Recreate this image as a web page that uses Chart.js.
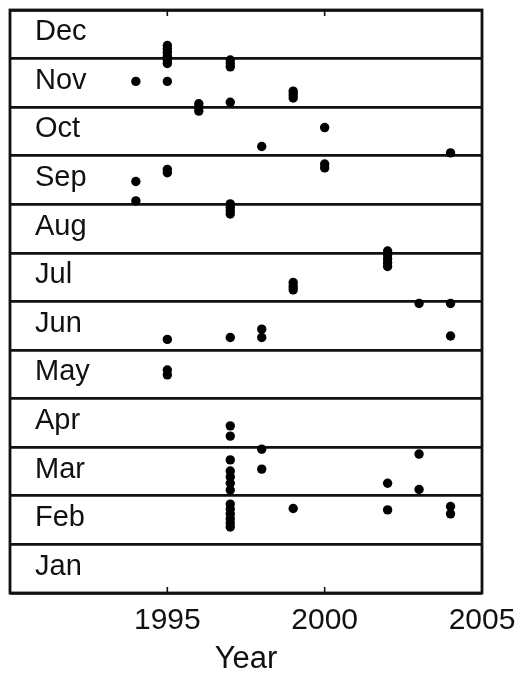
<!DOCTYPE html>
<html>
<head>
<meta charset="utf-8">
<script src="https://cdn.jsdelivr.net/npm/chart.js@4"></script>
<style>
  html, body { margin: 0; padding: 0; background: #fff; }
  canvas { display: block; }
</style>
</head>
<body>
<canvas id="c" width="518" height="674"></canvas>
<script>
// ---- data ----
const monthNames = ['Jan','Feb','Mar','Apr','May','Jun','Jul','Aug','Sep','Oct','Nov','Dec'];
const xTickValues = [1995, 2000, 2005];
const xMin = 1990, xMax = 2005;
// each event: year and position within the year (0 = start of Jan, 12 = end of Dec)
const eventYears = [
  1994, 1994, 1994,
  1995, 1995, 1995, 1995, 1995, 1995, 1995, 1995, 1995, 1995, 1995, 1995,
  1996, 1996, 1996,
  1997, 1997, 1997, 1997, 1997, 1997, 1997, 1997, 1997, 1997, 1997, 1997, 1997, 1997, 1997, 1997, 1997, 1997, 1997, 1997, 1997, 1997,
  1998, 1998, 1998, 1998, 1998,
  1999, 1999, 1999, 1999, 1999, 1999, 1999,
  2000, 2000, 2000,
  2002, 2002, 2002, 2002, 2002, 2002, 2002,
  2003, 2003, 2003,
  2004, 2004, 2004, 2004, 2004
];
const eventMonths = [
  10.53, 8.47, 8.07,
  11.27, 11.2, 11.13, 11.05, 10.97, 10.9, 10.53, 8.72, 8.65, 5.22, 4.59, 4.49,
  10.07, 10.0, 9.92,
  10.97, 10.9, 10.83, 10.1, 8.01, 7.94, 7.87, 7.80, 5.26, 3.44, 3.23, 2.74, 2.51, 2.39, 2.26, 2.12, 1.83, 1.73, 1.63, 1.53, 1.44, 1.36,
  9.19, 5.43, 5.26, 2.96, 2.55,
  10.33, 10.26, 10.19, 6.39, 6.31, 6.24, 1.74,
  9.58, 8.83, 8.75,
  7.04, 6.96, 6.88, 6.80, 6.72, 2.26, 1.71,
  5.96, 2.86, 2.13,
  9.06, 5.96, 5.29, 1.78, 1.63
];

const points = eventYears.map((y, i) => ({ x: y, y: eventMonths[i] }));
const FONT = '"Liberation Sans", Arial, Helvetica, sans-serif';
const INK = '#111';

const framePlugin = {
  id: 'frame',
  afterDraw(chart) {
    const { ctx, chartArea: a, scales } = chart;
    ctx.save();
    // month labels inside each band
    ctx.fillStyle = INK;
    ctx.font = '29px ' + FONT;
    ctx.textAlign = 'left';
    ctx.textBaseline = 'middle';
    monthNames.forEach((m, i) => {
      const yp = scales.y.getPixelForValue(i + 0.5);
      ctx.fillText(m, a.left + 25, yp - 2);
    });
    // frame
    ctx.strokeStyle = INK;
    ctx.lineWidth = 2.8;
    ctx.strokeRect(a.left, a.top, a.right - a.left, a.bottom - a.top);
    // inward tick marks top & bottom
    ctx.lineWidth = 1.6;
    xTickValues.forEach(v => {
      const xp = scales.x.getPixelForValue(v);
      ctx.beginPath();
      ctx.moveTo(xp, a.bottom); ctx.lineTo(xp, a.bottom - 6);
      ctx.moveTo(xp, a.top); ctx.lineTo(xp, a.top + 6);
      ctx.stroke();
    });
    ctx.restore();
  }
};

new Chart(document.getElementById('c'), {
  type: 'scatter',
  data: {
    datasets: [{
      data: points,
      backgroundColor: '#000',
      borderWidth: 0,
      pointRadius: 4.7,
      pointHoverRadius: 4.7
    }]
  },
  options: {
    responsive: false,
    animation: false,
    devicePixelRatio: 1,
    layout: { padding: { left: 10, top: 10, right: 36, bottom: 0 } },
    plugins: { legend: { display: false }, tooltip: { enabled: false } },
    scales: {
      x: {
        type: 'linear',
        min: xMin, max: xMax,
        afterBuildTicks: s => { s.ticks = xTickValues.map(v => ({ value: v })); },
        afterFit: s => { s.height = 81; s.paddingLeft = 0; s.paddingRight = 0; },
        grid: { display: false, drawTicks: false },
        border: { display: false },
        ticks: {
          color: INK,
          padding: 10,
          font: { family: FONT, size: 30 },
          maxRotation: 0,
          callback: v => String(v)
        },
        title: {
          display: true,
          text: 'Year',
          color: INK,
          font: { family: FONT, size: 31 },
          padding: { top: 0, bottom: -4 }
        }
      },
      y: {
        type: 'linear',
        min: 0, max: 12,
        afterFit: s => { s.width = 0; },
        ticks: { display: false, stepSize: 1 },
        grid: { color: INK, lineWidth: 2.8, drawTicks: false },
        border: { display: false }
      }
    }
  },
  plugins: [framePlugin]
});
</script>
</body>
</html>
